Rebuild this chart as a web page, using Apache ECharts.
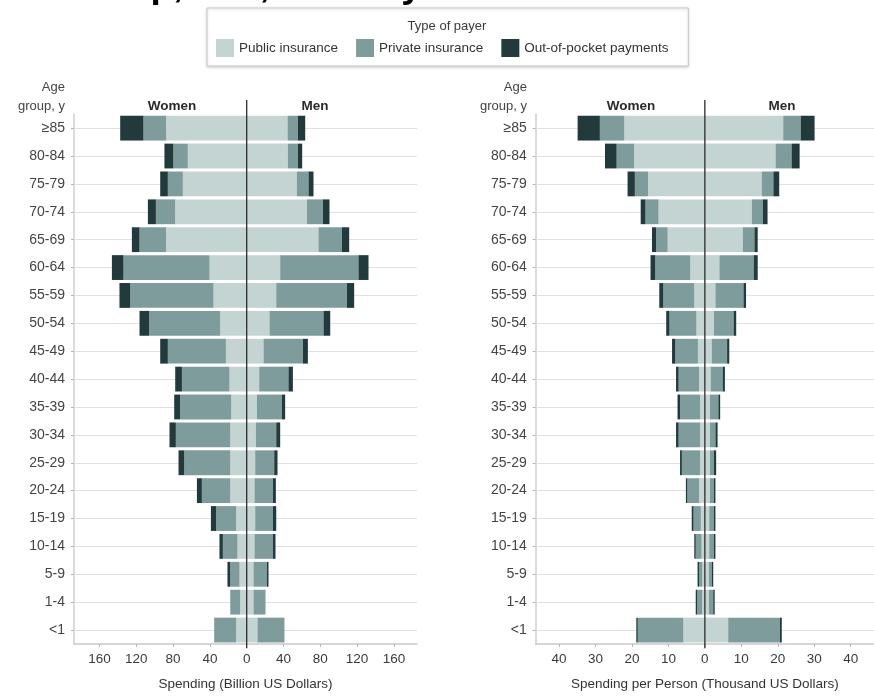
<!DOCTYPE html>
<html>
<head>
<meta charset="utf-8">
<script src="https://cdn.jsdelivr.net/npm/echarts@6/dist/echarts.min.js"></script>
<style>
  html, body { margin: 0; padding: 0; background: #ffffff; }
  #chart { width: 874px; height: 696px; }
</style>
</head>
<body>
<div id="chart"></div>
<script>
// Age groups, listed from the oldest (top row) to the youngest (bottom row)
const ageGroups = ['≥85', '80-84', '75-79', '70-74', '65-69', '60-64', '55-59', '50-54', '45-49',
  '40-44', '35-39', '30-34', '25-29', '20-24', '15-19', '10-14', '5-9', '1-4', '<1'];

const payerNames = ['Public insurance', 'Private insurance', 'Out-of-pocket payments'];

// Total spending, billion US dollars
const totalWomenPublic  = [87.5, 64, 69.4, 77.7, 87.5, 40.4, 36.1, 28.8, 22.6, 18.7, 16.8, 17.9, 17.9, 17.9, 11.4, 10, 7.8, 7.1, 11.4];
const totalWomenPrivate = [24.7, 15.7, 16.3, 21, 29, 93.5, 90.5, 77.2, 63.1, 51.7, 55.5, 59.1, 50, 30.8, 21.8, 15.9, 10.1, 10.3, 23.5];
const totalWomenOOP     = [25.3, 9.7, 8.3, 8.7, 8.3, 12.6, 11.7, 10.5, 8.3, 7.3, 6.5, 6.9, 6.2, 5.4, 5.7, 3.7, 3, 0.3, 0.3];
const totalMenPublic    = [44.4, 44.8, 54.5, 65.4, 78, 36.4, 32.1, 24.8, 18.3, 13.6, 11.1, 10, 9.2, 8.5, 9.2, 8.5, 7.4, 7.4, 11.7];
const totalMenPrivate   = [11.2, 10.8, 12.7, 17.4, 25.5, 85.1, 76.8, 58.7, 42.8, 31.8, 27.2, 22.1, 20.7, 20, 19.3, 20, 14.6, 12.5, 28.8];
const totalMenOOP       = [8, 4.7, 5.4, 7.2, 7.9, 10.9, 7.9, 7.3, 5.4, 4.8, 3.5, 4.3, 3.6, 3.2, 3.6, 2.8, 1.7, 0.3, 0.3];

// Spending per person, thousand US dollars
const perCapWomenPublic  = [22.1, 19.4, 15.6, 12.7, 10.2, 4, 2.9, 2.3, 1.9, 1.6, 1.3, 1.3, 1.3, 1.6, 1.1, 0.9, 0.7, 0.7, 5.9];
const perCapWomenPrivate = [6.7, 4.8, 3.6, 3.6, 3.2, 9.6, 8.5, 7.4, 6.2, 5.6, 5.5, 5.9, 5, 3.2, 2, 1.6, 0.9, 1.4, 12.5];
const perCapWomenOOP     = [6.1, 3.2, 2, 1.3, 1.1, 1.3, 1.1, 0.9, 0.9, 0.7, 0.7, 0.7, 0.5, 0.4, 0.5, 0.4, 0.4, 0.4, 0.4];
const perCapMenPublic    = [21.5, 19.4, 15.6, 12.9, 10.4, 4, 2.9, 2.5, 1.9, 1.6, 1.4, 1.4, 1.4, 1.4, 1.2, 1.2, 1.1, 1.1, 6.4];
const perCapMenPrivate   = [4.8, 4.4, 3.2, 3, 3.2, 9.4, 7.7, 5.4, 4.2, 3.3, 2.3, 1.5, 1.1, 1.1, 1.3, 1.3, 0.8, 1.2, 14.2];
const perCapMenOOP       = [3.8, 2.2, 1.6, 1.3, 0.9, 1.1, 0.7, 0.7, 0.6, 0.6, 0.5, 0.6, 0.6, 0.4, 0.4, 0.4, 0.4, 0.4, 0.5];

// Tick labels for the two spending axes (shown as absolute values on both sides)
const totalTicks  = [-160, -120, -80, -40, 0, 40, 80, 120, 160];
const perCapTicks = [-40, -30, -20, -10, 0, 10, 20, 30, 40];

const FONT = "'Liberation Sans', Arial, sans-serif";
const payerColors = ['#c4d4d3', '#7f9c9d', '#223a3c'];
const GRID_TOP = 114.2, GRID_H = 534;

function barSeries(gridIdx, name, color, values, sign, withGridLines) {
  const s = {
    type: 'bar',
    name: name,
    xAxisIndex: gridIdx,
    yAxisIndex: gridIdx,
    stack: 'pyramid' + gridIdx,
    barCategoryGap: '11%',
    itemStyle: { color: color },
    emphasis: { disabled: true },
    animation: false,
    data: values.map(v => sign * v)
  };
  if (withGridLines) {
    // light rules through the centre of each age-group row, behind the bars
    s.markLine = {
      silent: true,
      symbol: 'none',
      z: 1,
      animation: false,
      label: { show: false },
      lineStyle: { color: '#e1e1e1', width: 1, type: 'solid' },
      data: ageGroups.map(a => ({ yAxis: a }))
    };
  }
  return s;
}

function valueAxis(gridIdx, min, max, ticks, title) {
  return {
    gridIndex: gridIdx,
    type: 'value',
    min: min,
    max: max,
    axisLine: { show: true, onZero: false, lineStyle: { color: '#c9c9c9', width: 1.5 } },
    axisTick: { show: true, customValues: ticks, length: 3, lineStyle: { color: '#b5b5b5' } },
    axisLabel: {
      customValues: ticks,
      formatter: v => String(Math.abs(v)),
      color: '#3a3a3a', fontFamily: FONT, fontSize: 13.5, margin: 8
    },
    splitLine: { show: false },
    name: title,
    nameLocation: 'middle',
    nameGap: 33,
    nameTextStyle: { color: '#333', fontFamily: FONT, fontSize: 13.5 }
  };
}

function ageAxis(gridIdx) {
  return {
    gridIndex: gridIdx,
    type: 'category',
    data: ageGroups,
    inverse: true,
    axisLine: { show: true, onZero: false, lineStyle: { color: '#cfcfcf', width: 1.5 } },
    axisTick: { show: true, alignWithLabel: true, length: 3, lineStyle: { color: '#b5b5b5' } },
    axisLabel: { color: '#444', fontFamily: FONT, fontSize: 14, margin: 9 },
    splitLine: { show: false }
  };
}

const series = [];
[[0, [totalWomenPublic, totalWomenPrivate, totalWomenOOP], [totalMenPublic, totalMenPrivate, totalMenOOP]],
 [1, [perCapWomenPublic, perCapWomenPrivate, perCapWomenOOP], [perCapMenPublic, perCapMenPrivate, perCapMenOOP]]]
  .forEach(([g, women, men]) => {
    women.forEach((vals, i) => series.push(barSeries(g, payerNames[i], payerColors[i], vals, -1, i === 0)));
    men.forEach((vals, i) => series.push(barSeries(g, payerNames[i], payerColors[i], vals, 1, false)));
  });

function label(x, y, text, align, extra) {
  return {
    type: 'text', silent: true, z: 10,
    style: Object.assign({ x: x, y: y, text: text, textAlign: align, textVerticalAlign: 'middle',
      font: "13.5px " + FONT, fill: '#333' }, extra || {})
  };
}

const chart = echarts.init(document.getElementById('chart'), null, { renderer: 'canvas' });

const option = {
  backgroundColor: '#ffffff',
  animation: false,
  textStyle: { fontFamily: FONT },
  legend: {
    data: payerNames,
    left: 207,
    top: 8,
    padding: [31, 20, 9, 9],
    itemWidth: 18,
    itemHeight: 18,
    itemGap: 18,
    icon: 'rect',
    selectedMode: false,
    borderColor: '#c9c9c9',
    borderWidth: 1,
    shadowColor: 'rgba(0,0,0,0.18)',
    shadowBlur: 3,
    shadowOffsetY: 1,
    backgroundColor: '#ffffff',
    textStyle: { color: '#333', fontFamily: FONT, fontSize: 13.5 }
  },
  grid: [
    { left: 74, top: GRID_TOP, width: 343, height: GRID_H },
    { left: 535.7, top: GRID_TOP, width: 341.6, height: GRID_H }
  ],
  xAxis: [
    valueAxis(0, -187.7, 185.1, totalTicks, 'Spending (Billion US Dollars)'),
    valueAxis(1, -46.4, 46.4, perCapTicks, 'Spending per Person (Thousand US Dollars)')
  ],
  yAxis: [ageAxis(0), ageAxis(1)],
  series: series
};

chart.setOption(option);

// Centre divider, group headers and panel captions
function decorations() {
  const els = [];
  const bottom = GRID_TOP + GRID_H;
  [0, 1].forEach(g => {
    const x0 = chart.convertToPixel({ xAxisIndex: g }, 0);
    els.push({
      type: 'line', silent: true, z: 20,
      shape: { x1: x0, y1: 100, x2: x0, y2: bottom },
      style: { stroke: '#2b2b2b', lineWidth: 1.3 }
    });
  });
  // Women / Men captions
  els.push(label(172, 106.5, 'Women', 'center', { font: 'bold 13.5px ' + FONT, fill: '#2a2a2a' }));
  els.push(label(315, 106.5, 'Men', 'center', { font: 'bold 13.5px ' + FONT, fill: '#2a2a2a' }));
  els.push(label(631, 106.5, 'Women', 'center', { font: 'bold 13.5px ' + FONT, fill: '#2a2a2a' }));
  els.push(label(782, 106.5, 'Men', 'center', { font: 'bold 13.5px ' + FONT, fill: '#2a2a2a' }));
  // Age-group axis headers
  [65, 527].forEach(x => {
    els.push(label(x, 87, 'Age', 'right', { font: '13px ' + FONT, fill: '#444' }));
    els.push(label(x, 106, 'group, y', 'right', { font: '13px ' + FONT, fill: '#444' }));
  });
  // Legend heading
  els.push(label(447, 26, 'Type of payer', 'center', { font: '13px ' + FONT, fill: '#3a3a3a' }));
  // Figure heading running off the top edge
  els.push({
    type: 'text', silent: true, z: 10,
    style: { x: 62, y: -13, text: 'Group, Sex, and Payer', textAlign: 'left', textVerticalAlign: 'middle',
      font: 'bold 37px ' + FONT, fill: '#000' }
  });
  chart.setOption({ graphic: els });
}
decorations();
</script>
</body>
</html>
